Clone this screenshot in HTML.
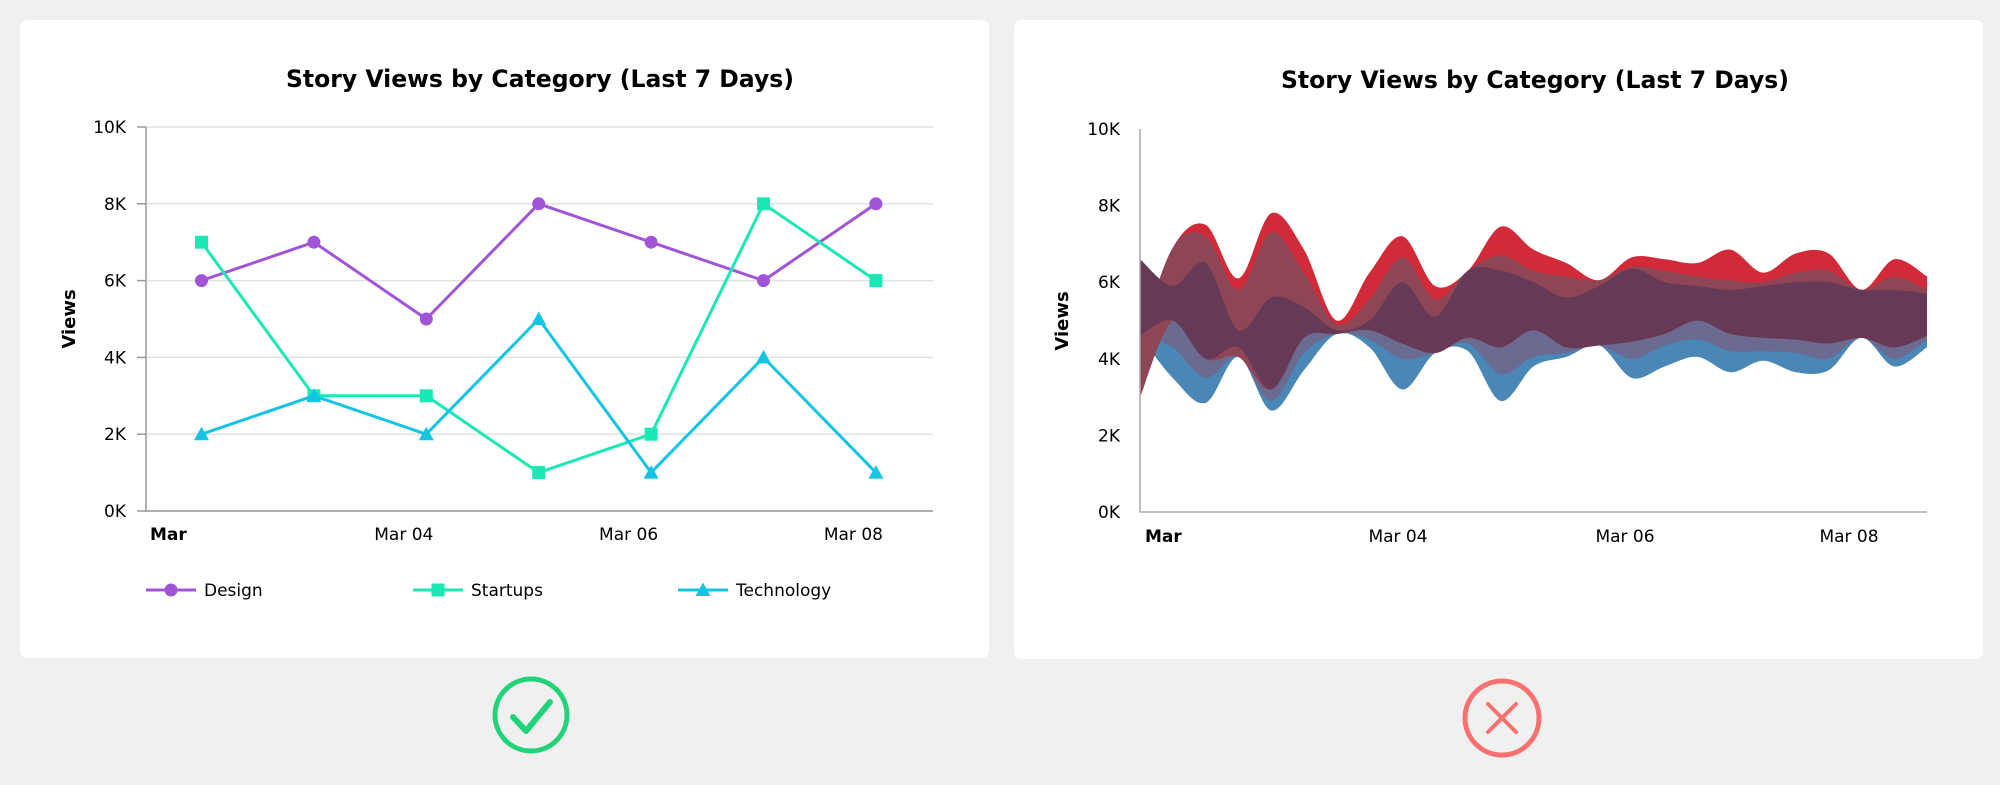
<!DOCTYPE html>
<html><head><meta charset="utf-8">
<style>
html,body{margin:0;padding:0;background:#f0f0f0;width:2000px;height:785px;overflow:hidden;}
svg{display:block;font-family:"DejaVu Sans","Liberation Sans",sans-serif;}
</style></head>
<body>
<svg id="root" width="2000" height="785" viewBox="0 0 2000 785">
  <rect x="20" y="20" width="969" height="638" rx="7" fill="#fff"/>
  <rect x="1014" y="20" width="969" height="639" rx="7" fill="#fff"/>
  <text x="540" y="87" text-anchor="middle" font-size="24" font-weight="bold" textLength="508" lengthAdjust="spacingAndGlyphs">Story Views by Category (Last 7 Days)</text>
  <text x="1535" y="88" text-anchor="middle" font-size="24" font-weight="bold" textLength="508" lengthAdjust="spacingAndGlyphs">Story Views by Category (Last 7 Days)</text>
  <text transform="translate(75,319) rotate(-90)" text-anchor="middle" font-size="18" font-weight="bold">Views</text>
  <text transform="translate(1068,321) rotate(-90)" text-anchor="middle" font-size="18" font-weight="bold">Views</text>
  <g id="left"></g>
  <g id="right"></g>
  <g>
    <circle cx="531" cy="715" r="36" fill="none" stroke="#22d37a" stroke-width="5"/>
    <polyline points="513,717 526,731 550,702" fill="none" stroke="#22d37a" stroke-width="6" stroke-linecap="round" stroke-linejoin="round"/>
  </g>
  <g>
    <circle cx="1502" cy="718" r="37" fill="none" stroke="#f87171" stroke-width="5"/>
    <path d="M1488,704 L1516,732 M1516,704 L1488,732" stroke="#f87171" stroke-width="4" stroke-linecap="round"/>
  </g>
</svg>
<script>
// ---- line chart data ----
const lineCategories = ["Mar 02","Mar 03","Mar 04","Mar 05","Mar 06","Mar 07","Mar 08"];
const designValues = [6000,7000,5000,8000,7000,6000,8000];
const startupsValues = [7000,3000,3000,1000,2000,8000,6000];
const technologyValues = [2000,3000,2000,5000,1000,4000,1000];
const yTickValues = [0,2000,4000,6000,8000,10000];
const yTickLabels = ["0K","2K","4K","6K","8K","10K"];
const xTickLabels = ["Mar","Mar 04","Mar 06","Mar 08"];
const xTickIndex = [-0.45,1.8,3.8,5.8];

// ---- stream chart data (values in K views) ----
const streamRedTop   = [4.5,6.9,7.5,6.1,7.8,6.85,5.0,6.25,7.2,5.9,6.3,7.45,6.85,6.5,6.05,6.65,6.6,6.5,6.85,6.25,6.75,6.75,5.8,6.6,6.15];
const streamMauveTop = [4.5,6.9,7.2,5.8,7.3,6.25,4.9,5.55,6.65,5.55,6.3,6.7,6.3,6.15,6.05,6.4,6.3,6.15,6.05,6.0,6.25,6.3,5.8,6.15,5.8];
const streamMauveBot = [3.0,5.0,4.0,4.05,3.2,4.55,4.65,4.75,4.4,4.15,4.55,4.3,4.75,4.3,4.35,4.45,4.65,5.0,4.65,4.55,4.5,4.4,4.55,4.3,4.6];
const streamDarkTop  = [6.6,5.9,6.5,4.75,5.6,5.35,4.75,5.0,6.0,5.1,6.3,6.3,6.0,5.6,5.9,6.35,6.0,5.9,5.8,5.9,6.0,6.0,5.8,5.8,5.7];
const streamDarkBot  = [4.6,5.0,4.0,4.3,3.2,4.55,4.65,4.75,4.4,4.15,4.55,4.3,4.75,4.3,4.35,4.45,4.65,5.0,4.65,4.55,4.5,4.4,4.55,4.3,4.6];
const streamGrayBot  = [4.6,4.3,3.5,4.05,2.9,4.15,4.65,4.5,4.0,4.15,4.4,3.6,4.05,4.15,4.35,4.0,4.35,4.5,4.2,4.2,4.15,4.0,4.55,4.0,4.5];
const streamBlueBot  = [4.6,3.5,2.85,4.05,2.65,3.7,4.65,4.3,3.2,4.15,4.2,2.9,3.8,4.05,4.35,3.5,3.8,4.05,3.65,3.95,3.65,3.7,4.55,3.8,4.3];

const NS = "http://www.w3.org/2000/svg";
function mk(tag, attrs, parent){const e=document.createElementNS(NS,tag);for(const k in attrs)e.setAttribute(k,attrs[k]);parent.appendChild(e);return e;}

// ---- left line chart ----
const L = document.getElementById('left');
const lx0=146, lx1=933, ly0=511, ly1=127;
const ly = v => ly0 - (v/10000)*(ly0-ly1);
const lxi = i => 201.5 + i*112.4;
yTickValues.forEach((v,k)=>{
  const g = mk('line',{x1:lx0,x2:lx1,y1:ly(v),y2:ly(v),stroke:'#e2e2e2','stroke-width':1.5},L);
  
  
  const t = mk('line',{x1:137,x2:lx0,y1:ly(v),y2:ly(v),stroke:'#999','stroke-width':1.5},L);
  
  
  const lb = mk('text',{x:126,y:ly(v)+6,'text-anchor':'end','font-size':17},L);
  lb.textContent = yTickLabels[k];
  
  
});
const lax = mk('path',{d:`M${lx0},${ly1} V${ly0} H${lx1}`,fill:'none',stroke:'#999','stroke-width':1.5},L);


xTickLabels.forEach((s,k)=>{
  const t = mk('text',{x: k===0?150:lxi(xTickIndex[k]), y:540,'text-anchor':k===0?'start':'middle','font-size':17,'font-weight':k===0?'bold':'normal'},L);
  t.textContent = s;
  
  
});
function marker(shape,x,y,color,parent){
  let m;
  if(shape==='circle') m = mk('circle',{cx:x,cy:y,r:6.5,fill:color},parent);
  else if(shape==='square') m = mk('rect',{x:x-6.5,y:y-6.5,width:13,height:13,fill:color},parent);
  else m = mk('path',{d:`M${x},${y-7.5} L${x+7.5},${y+6} L${x-7.5},${y+6} Z`,fill:color},parent);
  return m;
}
const seriesList = [
  {name:'design',vals:designValues,color:'#a155d6',shape:'circle'},
  {name:'startups',vals:startupsValues,color:'#1be8b4',shape:'square'},
  {name:'technology',vals:technologyValues,color:'#13c4e4',shape:'triangle'}
];
seriesList.forEach(s=>{
  const g = mk('g',{},L);
  
  
  const pts = s.vals.map((v,i)=>lxi(i)+','+ly(v)).join(' ');
  const pl = mk('polyline',{points:pts,fill:'none',stroke:s.color,'stroke-width':3,'stroke-linejoin':'round'},g);
  
  
  s.vals.forEach((v,i)=>{
    const m = marker(s.shape,lxi(i),ly(v),s.color,g);
    
    
  });
});
const legendX = [146,413,678];
seriesList.forEach((s,k)=>{
  const g = mk('g',{},L);
  
  
  mk('line',{x1:legendX[k],x2:legendX[k]+50,y1:590,y2:590,stroke:s.color,'stroke-width':3},g);
  marker(s.shape,legendX[k]+25,590,s.color,g);
  const t = mk('text',{x:legendX[k]+58,y:596,'font-size':17},g);
  t.textContent = s.name==='design'?'Design':s.name==='startups'?'Startups':'Technology';
});

// ---- right stream chart ----
const R = document.getElementById('right');
const rx0=1140, rx1=1927, ry0=512, ry1=129;
const ry = v => ry0 - (v/10)*(ry0-ry1);
const n = streamRedTop.length;
const rxi = i => rx0 + i*(rx1-rx0)/(n-1);
yTickValues.forEach((v,k)=>{
  const lb = mk('text',{x:1120,y:ry(v/1000)+6,'text-anchor':'end','font-size':17},R);
  lb.textContent = yTickLabels[k];
  
  
});
const rXLabelX = [1145,1398,1625,1849];
xTickLabels.forEach((s,k)=>{
  const t = mk('text',{x:rXLabelX[k],y:542,'text-anchor':k===0?'start':'middle','font-size':17,'font-weight':k===0?'bold':'normal'},R);
  t.textContent = s;
  
  
});
function smoothPts(pts){
  let d='';
  for(let i=0;i<pts.length-1;i++){
    const p0=pts[Math.max(0,i-1)],p1=pts[i],p2=pts[i+1],p3=pts[Math.min(pts.length-1,i+2)];
    const c1=[p1[0]+(p2[0]-p0[0])/6,p1[1]+(p2[1]-p0[1])/6];
    const c2=[p2[0]-(p3[0]-p1[0])/6,p2[1]-(p3[1]-p1[1])/6];
    d+=` C${c1[0]},${c1[1]} ${c2[0]},${c2[1]} ${p2[0]},${p2[1]}`;
  }
  return d;
}
function band(top,bot,color,name){
  const tp = top.map((v,i)=>[rxi(i),ry(v)]);
  const bp = bot.map((v,i)=>[rxi(i),ry(v)]).reverse();
  const d = `M${tp[0][0]},${tp[0][1]}`+smoothPts(tp)+` L${bp[0][0]},${bp[0][1]}`+smoothPts(bp)+'Z';
  const p = mk('path',{d:d,fill:color},R);
  
  
}
band(streamDarkTop, streamBlueBot, '#4a86b6','stream-blue-band');
band(streamDarkTop, streamGrayBot, '#6b6a90','stream-gray-band');
band(streamRedTop, streamMauveBot, '#d12a38','stream-red-band');
band(streamMauveTop, streamMauveBot, '#8e4555','stream-mauve-band');
band(streamDarkTop, streamDarkBot, '#663a57','stream-dark-band');
const rax = mk('path',{d:`M${rx0},${ry1} V${ry0} H${rx1}`,fill:'none',stroke:'#aaa','stroke-width':1.5},R);


</script>
</body></html>
